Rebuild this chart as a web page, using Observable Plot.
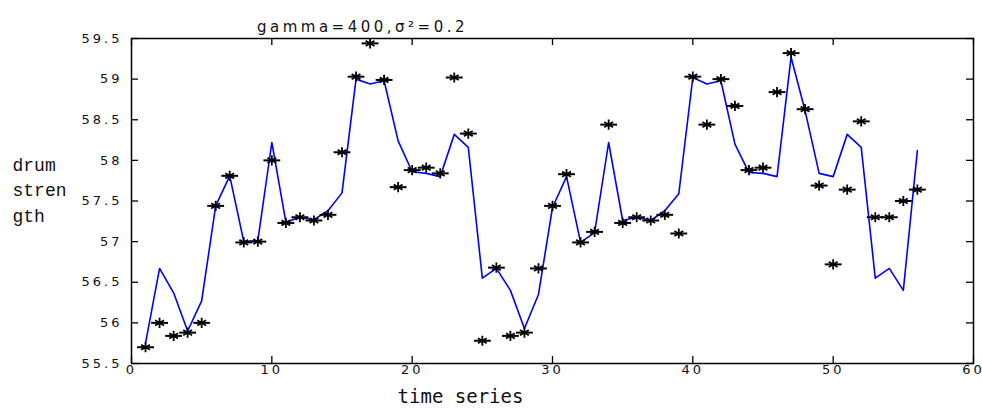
<!DOCTYPE html>
<html><head><meta charset="utf-8">
<script src="https://cdn.jsdelivr.net/npm/d3@7"></script>
<script src="https://cdn.jsdelivr.net/npm/@observablehq/plot@0.6"></script>
<style>
body{margin:0;background:#fff}
g[aria-label="x-axis tick label"] text, g[aria-label="y-axis tick label"] text{letter-spacing:3px}
</style>
</head><body><div id="chart"></div>
<script>
const timeIndex = [1,2,3,4,5,6,7,8,9,10,11,12,13,14,15,16,17,18,19,20,21,22,23,24,25,26,27,28,29,30,31,32,33,34,35,36,37,38,39,40,41,42,43,44,45,46,47,48,49,50,51,52,53,54,55,56];
const measured = [55.7,56.0,55.84,55.88,56.0,57.44,57.81,56.99,57.0,58.0,57.23,57.3,57.26,57.33,58.1,59.03,59.44,58.99,57.67,57.88,57.91,57.84,59.02,58.33,55.78,56.68,55.84,55.88,56.67,57.44,57.83,56.99,57.12,58.44,57.23,57.3,57.26,57.33,57.1,59.03,58.44,59.0,58.67,57.88,57.91,58.84,59.32,58.63,57.69,56.72,57.64,58.48,57.3,57.3,57.5,57.64];
const fitted = [55.75,56.67,56.37,55.9,56.27,57.44,57.81,57.0,57.01,58.22,57.24,57.3,57.27,57.38,57.6,59.0,58.94,58.98,58.24,57.86,57.84,57.8,58.32,58.16,56.55,56.67,56.4,55.93,56.35,57.42,57.8,56.99,57.11,58.22,57.26,57.3,57.26,57.38,57.59,59.02,58.94,58.98,58.2,57.85,57.84,57.8,59.27,58.61,57.84,57.8,58.32,58.16,56.55,56.67,56.4,58.12];
const xTicks = [0,10,20,30,40,50,60];
const yTicks = [55.5,56,56.5,57,57.5,58,58.5,59,59.5];
const titleText = "gamma=400,σ²=0.2";
const yLabelLines = ["drum","stren","gth"];
const xLabelText = "time series";

const pts = timeIndex.map((t,i)=>({t, v: measured[i]}));
const fit = timeIndex.map((t,i)=>({t, v: fitted[i]}));
const W = 982, H = 410, ML = 131, MR = 9, MT = 38, MB = 47;
const PW = W-ML-MR, PH = H-MT-MB, TK = 7;

const chart = Plot.plot({
  width: W, height: H,
  marginLeft: ML, marginRight: MR, marginTop: MT, marginBottom: MB,
  style: {fontFamily: "DejaVu Sans", fontSize: "13px", color: "#111", background: "#fff", overflow: "visible"},
  x: {domain: [0,60]},
  y: {domain: [55.5,59.5]},
  marks: [
    Plot.axisX(xTicks, {anchor: "bottom", tickSize: 0, tickPadding: 1, label: null, tickFormat: d => String(d)}),
    Plot.axisY(yTicks, {anchor: "left", tickSize: 0, tickPadding: 9, label: null, tickFormat: d => String(d)}),
    Plot.tickX(xTicks, {x: d => d, insetTop: PH-TK, stroke: "#000", strokeWidth: 1.3}),
    Plot.tickX(xTicks, {x: d => d, insetBottom: PH-TK, stroke: "#000", strokeWidth: 1.3}),
    Plot.tickY(yTicks, {y: d => d, insetRight: PW-TK, stroke: "#000", strokeWidth: 1.3}),
    Plot.tickY(yTicks, {y: d => d, insetLeft: PW-TK, stroke: "#000", strokeWidth: 1.3}),
    Plot.line(fit, {x: "t", y: "v", stroke: "#0000ff", strokeWidth: 1.6}),
    Plot.link(pts, {x1: d => d.t - 0.6, x2: d => d.t + 0.6, y1: "v", y2: "v", stroke: "#000", strokeWidth: 2}),
    Plot.dot(pts, {x: "t", y: "v", symbol: "asterisk", r: 4.8, stroke: "#000", strokeWidth: 1.8}),
    Plot.frame({stroke: "#000", strokeWidth: 1.5}),
    Plot.text([titleText], {frameAnchor: "top", dx: -190, dy: -17, fontSize: 15, fill: "#111"}),
    Plot.text([xLabelText], {frameAnchor: "bottom", dx: -92, dy: 39, fontFamily: "DejaVu Sans Mono", fontSize: 19, fill: "#111"}),
    Plot.text([yLabelLines.join("\n")], {frameAnchor: "left", dx: 12-ML, dy: -13, textAnchor: "start", lineHeight: 1.42, fontFamily: "Liberation Mono", fontSize: 18, fill: "#111"})
  ]
});
d3.select(chart).selectAll("text").filter(function(){ return this.textContent === titleText; }).style("letter-spacing", "3.5px");
document.getElementById("chart").appendChild(chart);
</script>
</body></html>
